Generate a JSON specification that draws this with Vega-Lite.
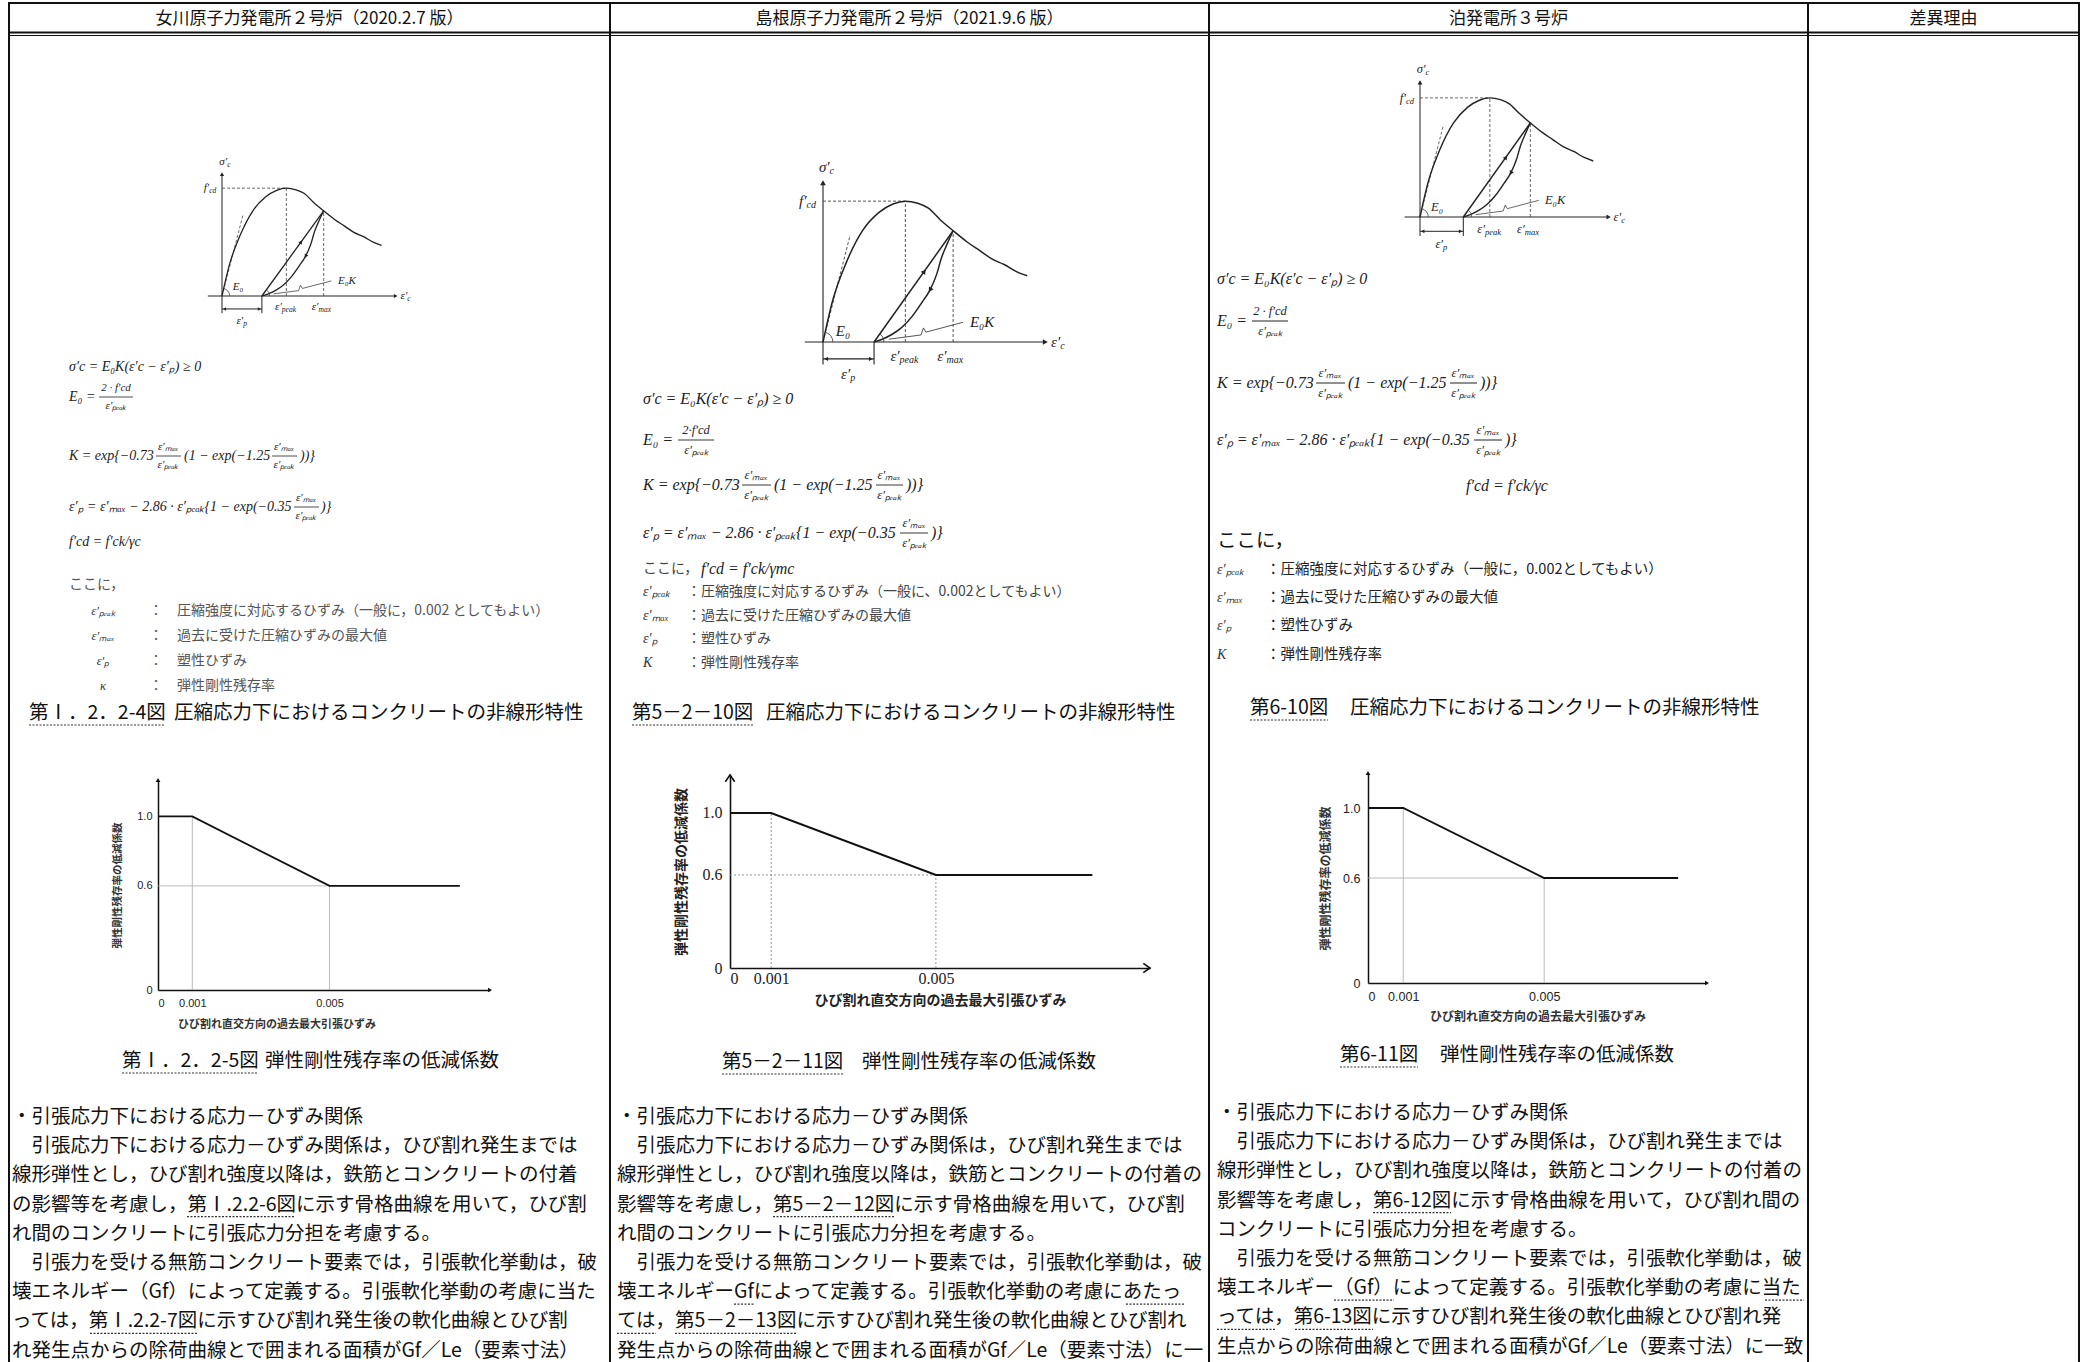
{
"$schema": "https://vega.github.io/schema/vega-lite/v6.json",
"background": "white",
"padding": {"left": 8, "top": 2, "right": 0, "bottom": 0},
"spacing": 0,
"bounds": "flush",
"config": {"view": {"stroke": null}, "concat": {"spacing": 0}, "text": {"font": "Noto Sans CJK JP"}, "axis": {"labelOverlap": false, "labelBound": false}, "point": {"opacity": 1}},
"datasets": {
"ss_env": [{"e":0,"s":0},{"e":0.12,"s":0.3},{"e":0.28,"s":0.56},{"e":0.48,"s":0.79},{"e":0.68,"s":0.92},{"e":0.85,"s":0.98},{"e":1.0,"s":1.0},{"e":1.15,"s":0.985},{"e":1.28,"s":0.95},{"e":1.42,"s":0.87},{"e":1.58,"s":0.79},{"e":1.75,"s":0.71},{"e":1.9,"s":0.65},{"e":2.05,"s":0.59},{"e":2.2,"s":0.55},{"e":2.35,"s":0.5},{"e":2.48,"s":0.47}],
"ss_loop": [{"g":"r","e":0.62,"s":0},{"g":"r","e":1.58,"s":0.79},{"g":"u","e":0.62,"s":0},{"g":"u","e":0.72,"s":0.02},{"g":"u","e":0.84,"s":0.055},{"g":"u","e":0.95,"s":0.1},{"g":"u","e":1.08,"s":0.18},{"g":"u","e":1.2,"s":0.28},{"g":"u","e":1.3,"s":0.37},{"g":"u","e":1.38,"s":0.48},{"g":"u","e":1.44,"s":0.6},{"g":"u","e":1.51,"s":0.7},{"g":"u","e":1.58,"s":0.79}],
"ss_dash": [{"e":0,"s":1,"e2":1,"s2":1},{"e":1,"s":0,"e2":1,"s2":1},{"e":1.58,"s":0,"e2":1.58,"s2":0.79},{"e":0,"s":0,"e2":0.33,"s2":0.76}],
"ss_solid": [{"e":-0.22,"s":0,"e2":2.68,"s2":0},{"e":0,"s":-0.16,"e2":0,"s2":1.12},{"e":0.62,"s":0,"e2":0.62,"s2":-0.16},{"e":0,"s":-0.12,"e2":0.62,"s2":-0.12}],
"ss_thin": [{"g":"a1","e":0.12,"s":0},{"g":"a1","e":0.113,"s":0.024},{"g":"a1","e":0.092,"s":0.046},{"g":"a1","e":0.06,"s":0.061},{"g":"a1","e":0.031,"s":0.069},{"g":"a2","e":0.74,"s":0},{"g":"a2","e":0.736,"s":0.018},{"g":"a2","e":0.724,"s":0.036},{"g":"a2","e":0.705,"s":0.05},{"g":"a2","e":0.69,"s":0.057},{"g":"ld","e":0.8,"s":0.02},{"g":"ld","e":1.19,"s":0.05},{"g":"ld","e":1.22,"s":0.1},{"g":"ld","e":1.25,"s":0.07},{"g":"ld","e":1.7,"s":0.14}],
"ss_lab": [{"m":"σ′","b":"c","e":0.08,"s":1.24},{"m":"f′","b":"cd","e":-0.2,"s":1.0},{"m":"E₀","b":"","e":0.33,"s":0.08},{"m":"E₀K","b":"","e":2.08,"s":0.14},{"m":"ε′","b":"peak","e":0.93,"s":-0.1},{"m":"ε′","b":"max","e":1.5,"s":-0.1},{"m":"ε′","b":"p","e":0.33,"s":-0.23},{"m":"ε′","b":"c","e":2.88,"s":0.0}],
"red": [{"e":0,"k":1},{"e":0.001,"k":1},{"e":0.005,"k":0.6},{"e":0.0088,"k":0.6}],
"red_g": [{"e":0.001,"k":0,"e2":0.001,"k2":1},{"e":0.005,"k":0,"e2":0.005,"k2":0.6},{"e":0,"k":0.6,"e2":0.005,"k2":0.6}],
"c1_hdr": [{"x":299.5,"y":17,"t":"女川原子力発電所２号炉（2020.2.7 版）"}],
"c1_main": [{"x":59,"y":365,"t":"σ′c = E₀K(ε′c − ε′ₚ)    ≥ 0"},{"x":59,"y":395,"t":"E₀ ="},{"x":59,"y":454,"t":"K = exp{−0.73"},{"x":174,"y":454,"t":"(1 − exp(−1.25"},{"x":290,"y":454,"t":"))}"},{"x":59,"y":505,"t":"ε′ₚ = ε′ₘₐₓ − 2.86 · ε′ₚₑₐₖ{1 − exp(−0.35"},{"x":311,"y":505,"t":")}"},{"x":59,"y":540,"t":"f′cd = f′ck/γc"}],
"c1_frac": [{"x":106,"y":386,"t":"2 · f′cd"},{"x":106,"y":404,"t":"ε′ₚₑₐₖ"},{"x":158,"y":445,"t":"ε′ₘₐₓ"},{"x":158,"y":463,"t":"ε′ₚₑₐₖ"},{"x":274,"y":445,"t":"ε′ₘₐₓ"},{"x":274,"y":463,"t":"ε′ₚₑₐₖ"},{"x":296,"y":496,"t":"ε′ₘₐₓ"},{"x":296,"y":514,"t":"ε′ₚₑₐₖ"}],
"c1_bars": [{"x":89,"x2":123,"y":395},{"x":146,"x2":171,"y":454},{"x":262,"x2":287,"y":454},{"x":284,"x2":309,"y":505}],
"c1_sym": [{"x":93,"y":609,"t":"ε′ₚₑₐₖ"},{"x":93,"y":634,"t":"ε′ₘₐₓ"},{"x":93,"y":659,"t":"ε′ₚ"},{"x":93,"y":684,"t":"κ"}],
"c1_jp": [{"x":59,"y":583,"t":"ここに，"},{"x":139,"y":609,"t":"：　圧縮強度に対応するひずみ（一般に，0.002 としてもよい）"},{"x":139,"y":634,"t":"：　過去に受けた圧縮ひずみの最大値"},{"x":139,"y":659,"t":"：　塑性ひずみ"},{"x":139,"y":684,"t":"：　弾性剛性残存率"}],
"c1_big": [{"x":19,"y":711,"t":"第Ⅰ．2．2-4図"},{"x":164,"y":711,"t":"圧縮応力下におけるコンクリートの非線形特性"},{"x":112,"y":1059,"t":"第Ⅰ．2．2-5図"},{"x":255,"y":1059,"t":"弾性剛性残存率の低減係数"},
 {"x":2,"y":1115,"t":"・引張応力下における応力－ひずみ関係"},
 {"x":21.5,"y":1144.2,"t":"引張応力下における応力－ひずみ関係は，ひび割れ発生までは"},
 {"x":2,"y":1173.4,"t":"線形弾性とし，ひび割れ強度以降は，鉄筋とコンクリートの付着"},
 {"x":2,"y":1202.6,"t":"の影響等を考慮し，第Ⅰ.2.2-6図に示す骨格曲線を用いて，ひび割"},
 {"x":2,"y":1231.8,"t":"れ間のコンクリートに引張応力分担を考慮する。"},
 {"x":21.5,"y":1261,"t":"引張力を受ける無筋コンクリート要素では，引張軟化挙動は，破"},
 {"x":2,"y":1290.2,"t":"壊エネルギー（Gf）によって定義する。引張軟化挙動の考慮に当た"},
 {"x":2,"y":1319.4,"t":"っては，第Ⅰ.2.2-7図に示すひび割れ発生後の軟化曲線とひび割"},
 {"x":2,"y":1348.6,"t":"れ発生点からの除荷曲線とで囲まれる面積がGf／Le（要素寸法）"}],
"c1_ttl": [{"x":267,"y":1023,"t":"ひび割れ直交方向の過去最大引張ひずみ"}],
"c1_ul": [{"x":19,"x2":155,"y":723},{"x":112,"x2":248,"y":1071},{"x":177,"x2":285,"y":1214.6},{"x":80,"x2":188,"y":1331.4}],
"c2_hdr": [{"x":298.5,"y":17,"t":"島根原子力発電所２号炉（2021.9.6 版）"}],
"c2_main": [{"x":32,"y":397,"t":"σ′c = E₀K(ε′c − ε′ₚ) ≥ 0"},{"x":32,"y":438,"t":"E₀ ="},{"x":32,"y":483,"t":"K = exp{−0.73"},{"x":163,"y":483,"t":"(1 − exp(−1.25"},{"x":295,"y":483,"t":"))}"},{"x":32,"y":531,"t":"ε′ₚ = ε′ₘₐₓ − 2.86 · ε′ₚₑₐₖ{1 − exp(−0.35"},{"x":320,"y":531,"t":")}"},{"x":90,"y":567,"t":"f′cd = f′ck/γmc"}],
"c2_frac": [{"x":85,"y":428,"t":"2·f′cd"},{"x":85,"y":448,"t":"ε′ₚₑₐₖ"},{"x":145,"y":473,"t":"ε′ₘₐₓ"},{"x":145,"y":493,"t":"ε′ₚₑₐₖ"},{"x":278,"y":473,"t":"ε′ₘₐₓ"},{"x":278,"y":493,"t":"ε′ₚₑₐₖ"},{"x":303,"y":521,"t":"ε′ₘₐₓ"},{"x":303,"y":541,"t":"ε′ₚₑₐₖ"}],
"c2_bars": [{"x":67,"x2":103,"y":438},{"x":131,"x2":160,"y":483},{"x":265,"x2":292,"y":483},{"x":289,"x2":317,"y":531}],
"c2_sym": [{"x":32,"y":590,"t":"ε′ₚₑₐₖ"},{"x":32,"y":614,"t":"ε′ₘₐₓ"},{"x":32,"y":637,"t":"ε′ₚ"},{"x":32,"y":661,"t":"K"}],
"c2_jp": [{"x":32,"y":567,"t":"ここに，"},{"x":76,"y":590,"t":"：圧縮強度に対応するひずみ（一般に、0.002としてもよい）"},{"x":76,"y":614,"t":"：過去に受けた圧縮ひずみの最大値"},{"x":76,"y":637,"t":"：塑性ひずみ"},{"x":76,"y":661,"t":"：弾性剛性残存率"}],
"c2_big": [{"x":21,"y":711,"t":"第5－2－10図"},{"x":155,"y":711,"t":"圧縮応力下におけるコンクリートの非線形特性"},{"x":111,"y":1060,"t":"第5－2－11図"},{"x":251,"y":1060,"t":"弾性剛性残存率の低減係数"},
 {"x":6,"y":1115,"t":"・引張応力下における応力－ひずみ関係"},
 {"x":25.5,"y":1144.2,"t":"引張応力下における応力－ひずみ関係は，ひび割れ発生までは"},
 {"x":6,"y":1173.4,"t":"線形弾性とし，ひび割れ強度以降は，鉄筋とコンクリートの付着の"},
 {"x":6,"y":1202.6,"t":"影響等を考慮し，第5－2－12図に示す骨格曲線を用いて，ひび割"},
 {"x":6,"y":1231.8,"t":"れ間のコンクリートに引張応力分担を考慮する。"},
 {"x":25.5,"y":1261,"t":"引張力を受ける無筋コンクリート要素では，引張軟化挙動は，破"},
 {"x":6,"y":1290.2,"t":"壊エネルギーGfによって定義する。引張軟化挙動の考慮にあたっ"},
 {"x":6,"y":1319.4,"t":"ては，第5－2－13図に示すひび割れ発生後の軟化曲線とひび割れ"},
 {"x":6,"y":1348.6,"t":"発生点からの除荷曲線とで囲まれる面積がGf／Le（要素寸法）に一"}],
"c2_ul": [{"x":21,"x2":142,"y":723},{"x":111,"x2":232,"y":1072},{"x":162,"x2":283,"y":1214.6},{"x":123,"x2":144,"y":1302.2},{"x":515,"x2":573,"y":1302.2},{"x":6,"x2":45,"y":1331.4},{"x":64,"x2":186,"y":1331.4}],
"c3_hdr": [{"x":298.5,"y":17,"t":"泊発電所３号炉"}],
"c3_main": [{"x":7,"y":277,"t":"σ′c = E₀K(ε′c − ε′ₚ) ≥ 0"},{"x":7,"y":319,"t":"E₀ ="},{"x":7,"y":381,"t":"K = exp{−0.73"},{"x":138,"y":381,"t":"(1 − exp(−1.25"},{"x":270,"y":381,"t":"))}"},{"x":7,"y":438,"t":"ε′ₚ = ε′ₘₐₓ − 2.86 · ε′ₚₑₐₖ{1 − exp(−0.35"},{"x":295,"y":438,"t":")}"},{"x":256,"y":484,"t":"f′cd = f′ck/γc"}],
"c3_frac": [{"x":60,"y":309,"t":"2 · f′cd"},{"x":60,"y":329,"t":"ε′ₚₑₐₖ"},{"x":120,"y":371,"t":"ε′ₘₐₓ"},{"x":120,"y":391,"t":"ε′ₚₑₐₖ"},{"x":253,"y":371,"t":"ε′ₘₐₓ"},{"x":253,"y":391,"t":"ε′ₚₑₐₖ"},{"x":278,"y":428,"t":"ε′ₘₐₓ"},{"x":278,"y":448,"t":"ε′ₚₑₐₖ"}],
"c3_bars": [{"x":42,"x2":78,"y":319},{"x":106,"x2":135,"y":381},{"x":240,"x2":267,"y":381},{"x":264,"x2":292,"y":438}],
"c3_sym": [{"x":7,"y":568,"t":"ε′ₚₑₐₖ"},{"x":7,"y":596,"t":"ε′ₘₐₓ"},{"x":7,"y":624,"t":"ε′ₚ"},{"x":7,"y":653,"t":"K"}],
"c3_jp": [{"x":56,"y":568,"t":"：圧縮強度に対応するひずみ（一般に，0.002としてもよい）"},{"x":56,"y":596,"t":"：過去に受けた圧縮ひずみの最大値"},{"x":56,"y":624,"t":"：塑性ひずみ"},{"x":56,"y":653,"t":"：弾性剛性残存率"}],
"c3_big": [{"x":7,"y":539,"t":"ここに，"},{"x":40,"y":706,"t":"第6-10図"},{"x":140,"y":706,"t":"圧縮応力下におけるコンクリートの非線形特性"},{"x":130,"y":1053,"t":"第6-11図"},{"x":230,"y":1053,"t":"弾性剛性残存率の低減係数"},
 {"x":7,"y":1111,"t":"・引張応力下における応力－ひずみ関係"},
 {"x":26.5,"y":1140.2,"t":"引張応力下における応力－ひずみ関係は，ひび割れ発生までは"},
 {"x":7,"y":1169.4,"t":"線形弾性とし，ひび割れ強度以降は，鉄筋とコンクリートの付着の"},
 {"x":7,"y":1198.6,"t":"影響等を考慮し，第6-12図に示す骨格曲線を用いて，ひび割れ間の"},
 {"x":7,"y":1227.8,"t":"コンクリートに引張応力分担を考慮する。"},
 {"x":26.5,"y":1257,"t":"引張力を受ける無筋コンクリート要素では，引張軟化挙動は，破"},
 {"x":7,"y":1286.2,"t":"壊エネルギー（Gf）によって定義する。引張軟化挙動の考慮に当た"},
 {"x":7,"y":1315.4,"t":"っては，第6-13図に示すひび割れ発生後の軟化曲線とひび割れ発"},
 {"x":7,"y":1344.6,"t":"生点からの除荷曲線とで囲まれる面積がGf／Le（要素寸法）に一致"}],
"c3_ul": [{"x":40,"x2":118,"y":718},{"x":130,"x2":208,"y":1065},{"x":163,"x2":241,"y":1210.6},{"x":124,"x2":184,"y":1298.2},{"x":555,"x2":594,"y":1298.2},{"x":7,"x2":65,"y":1327.4},{"x":85,"x2":163,"y":1327.4}],
"c4_hdr": [{"x":134.5,"y":17,"t":"差異理由"}]
},
"hconcat": [
{"width":2,"height":1360,"view":{"fill":"#111","stroke":null},"data":{"values":[]},"mark":"point"},
{"width":599,"height":1360,
 "resolve":{"scale":{"x":"independent","y":"independent"},"axis":{"x":"independent","y":"independent"}},
 "layer":[
  {"encoding":{"x":{"field":"x","type":"quantitative","scale":{"domain":[0,599],"nice":false,"zero":false},"axis":null},"y":{"field":"y","type":"quantitative","scale":{"domain":[0,1360],"nice":false,"zero":false,"reverse":true},"axis":null}},
   "layer":[
    {"data":{"values":[{"x":0,"x2":599,"y":1},{"x":0,"x2":599,"y":30.5}]},"mark":{"type":"rule","color":"#111","strokeWidth":2},"encoding":{"x2":{"field":"x2"}}},
    {"data":{"values":[{"x":0,"x2":599,"y":33.5}]},"mark":{"type":"rule","color":"#111","strokeWidth":1},"encoding":{"x2":{"field":"x2"}}},
    {"data":{"name":"c1_hdr"},"mark":{"type":"text","align":"center","baseline":"middle","font":"Noto Sans CJK JP","fontSize":17,"color":"#111"},"encoding":{"text":{"field":"t"}}},
    {"data":{"name":"c1_main"},"mark":{"type":"text","align":"left","baseline":"middle","font":"Liberation Serif","fontStyle":"italic","fontSize":14,"color":"#222"},"encoding":{"text":{"field":"t"}}},
    {"data":{"name":"c1_frac"},"mark":{"type":"text","align":"center","baseline":"middle","font":"Liberation Serif","fontStyle":"italic","fontSize":11,"color":"#222"},"encoding":{"text":{"field":"t"}}},
    {"data":{"name":"c1_bars"},"mark":{"type":"rule","color":"#222","strokeWidth":0.8},"encoding":{"x2":{"field":"x2"}}},
    {"data":{"name":"c1_sym"},"mark":{"type":"text","align":"center","baseline":"middle","font":"Liberation Serif","fontStyle":"italic","fontSize":12.5,"color":"#333"},"encoding":{"text":{"field":"t"}}},
    {"data":{"name":"c1_jp"},"mark":{"type":"text","align":"left","baseline":"middle","font":"Noto Sans CJK JP","fontSize":14,"color":"#555"},"encoding":{"text":{"field":"t"}}},
    {"data":{"name":"c1_big"},"mark":{"type":"text","align":"left","baseline":"middle","font":"Noto Sans CJK JP","fontSize":19.5,"color":"#111"},"encoding":{"text":{"field":"t"}}},
    {"data":{"name":"c1_ttl"},"mark":{"type":"text","align":"center","baseline":"middle","font":"Noto Sans CJK JP","fontSize":11,"fontWeight":"bold","color":"#333"},"encoding":{"text":{"field":"t"}}},
    {"data":{"name":"c1_ul"},"mark":{"type":"rule","color":"#333","strokeWidth":1.2,"strokeDash":[2,1.5]},"encoding":{"x2":{"field":"x2"}}}
   ]},
  {"encoding":{"x":{"field":"e","type":"quantitative","scale":{"domain":[0,2.72],"range":[212,387],"nice":false,"zero":false},"axis":null},"y":{"field":"s","type":"quantitative","scale":{"domain":[0,1.15],"range":[294,170],"nice":false,"zero":false},"axis":null}},
   "layer":[
    {"data":{"name":"ss_solid"},"mark":{"type":"rule","color":"#222","strokeWidth":1},"encoding":{"x2":{"field":"e2"},"y2":{"field":"s2"}}},
    {"data":{"name":"ss_dash"},"mark":{"type":"rule","color":"#444","strokeWidth":0.8,"strokeDash":[3,2]},"encoding":{"x2":{"field":"e2"},"y2":{"field":"s2"}}},
    {"data":{"name":"ss_env"},"mark":{"type":"line","color":"#222","strokeWidth":1.3,"interpolate":"monotone"}},
    {"data":{"name":"ss_loop"},"mark":{"type":"line","color":"#222","strokeWidth":1.3,"interpolate":"monotone"},"encoding":{"detail":{"field":"g"}}},
    {"data":{"name":"ss_thin"},"mark":{"type":"line","color":"#444","strokeWidth":0.8},"encoding":{"detail":{"field":"g"}}},
    {"data":{"values":[{"e":2.7,"s":0}]},"mark":{"type":"point","shape":"triangle-right","filled":true,"color":"#222","size":18}},
    {"data":{"values":[{"e":0,"s":1.13}]},"mark":{"type":"point","shape":"triangle-up","filled":true,"color":"#222","size":18}},
    {"data":{"values":[{"e":0.04,"s":-0.12}]},"mark":{"type":"point","shape":"triangle-left","filled":true,"color":"#222","size":12}},
    {"data":{"values":[{"e":0.58,"s":-0.12}]},"mark":{"type":"point","shape":"triangle-right","filled":true,"color":"#222","size":12}},
    {"data":{"values":[{"e":1.23,"s":0.5}]},"mark":{"type":"point","shape":"triangle-up","angle":36,"filled":true,"color":"#222","size":18}},
    {"data":{"values":[{"e":1.3,"s":0.37}]},"mark":{"type":"point","shape":"triangle-up","angle":211,"filled":true,"color":"#222","size":18}},
    {"data":{"name":"ss_lab"},"mark":{"type":"text","align":"right","baseline":"middle","font":"Liberation Serif","fontStyle":"italic","fontSize":11,"color":"#222"},"encoding":{"text":{"field":"m"}}},
    {"data":{"name":"ss_lab"},"mark":{"type":"text","align":"left","baseline":"middle","dy":3,"font":"Liberation Serif","fontStyle":"italic","fontSize":7.5,"color":"#222"},"encoding":{"text":{"field":"b"}}}
   ]},
  {"encoding":{
    "x":{"field":"e","type":"quantitative","scale":{"domain":[0,0.00968],"range":[148,480],"nice":false,"zero":false},"axis":{"orient":"bottom","offset":-372,"values":[0,0.001,0.005],"labelExpr":"datum.value == 0 ? '0' : format(datum.value, '.3f')","title":null,"ticks":false,"grid":false,"domainColor":"#111","domainWidth":1.5,"labelFont":"Liberation Sans","labelFontSize":11,"labelColor":"#222","labelPadding":7}},
    "y":{"field":"k","type":"quantitative","scale":{"domain":[0,1.21],"range":[988,778],"nice":false,"zero":false},"axis":{"orient":"left","offset":-148,"values":[0,0.6,1],"labelExpr":"datum.value == 0 ? '0' : format(datum.value, '.1f')","title":"弾性剛性残存率の低減係数","ticks":false,"grid":false,"domainColor":"#111","domainWidth":1.5,"labelFont":"Liberation Sans","labelFontSize":11,"labelColor":"#222","labelPadding":6,"titleFont":"Noto Sans CJK JP","titleFontSize":10.5,"titleFontWeight":"bold","titleColor":"#333","titlePadding":14}}},
   "layer":[
    {"data":{"name":"red_g"},"mark":{"type":"rule","color":"#aaa","strokeWidth":0.8},"encoding":{"x2":{"field":"e2"},"y2":{"field":"k2"}}},
    {"data":{"name":"red"},"mark":{"type":"line","color":"#111","strokeWidth":1.8}},
    {"data":{"values":[{"e":0.00968,"k":0}]},"mark":{"type":"point","shape":"triangle-right","filled":true,"color":"#111","size":22}},
    {"data":{"values":[{"e":0,"k":1.21}]},"mark":{"type":"point","shape":"triangle-up","filled":true,"color":"#111","size":22}}
   ]}
 ]},
{"width":2,"height":1360,"view":{"fill":"#111","stroke":null},"data":{"values":[]},"mark":"point"},
{"width":597,"height":1360,
 "resolve":{"scale":{"x":"independent","y":"independent"},"axis":{"x":"independent","y":"independent"}},
 "layer":[
  {"encoding":{"x":{"field":"x","type":"quantitative","scale":{"domain":[0,597],"nice":false,"zero":false},"axis":null},"y":{"field":"y","type":"quantitative","scale":{"domain":[0,1360],"nice":false,"zero":false,"reverse":true},"axis":null}},
   "layer":[
    {"data":{"values":[{"x":0,"x2":597,"y":1},{"x":0,"x2":597,"y":30.5}]},"mark":{"type":"rule","color":"#111","strokeWidth":2},"encoding":{"x2":{"field":"x2"}}},
    {"data":{"values":[{"x":0,"x2":597,"y":33.5}]},"mark":{"type":"rule","color":"#111","strokeWidth":1},"encoding":{"x2":{"field":"x2"}}},
    {"data":{"name":"c2_hdr"},"mark":{"type":"text","align":"center","baseline":"middle","font":"Noto Sans CJK JP","fontSize":17,"color":"#111"},"encoding":{"text":{"field":"t"}}},
    {"data":{"name":"c2_main"},"mark":{"type":"text","align":"left","baseline":"middle","font":"Liberation Serif","fontStyle":"italic","fontSize":16,"color":"#222"},"encoding":{"text":{"field":"t"}}},
    {"data":{"name":"c2_frac"},"mark":{"type":"text","align":"center","baseline":"middle","font":"Liberation Serif","fontStyle":"italic","fontSize":12.5,"color":"#222"},"encoding":{"text":{"field":"t"}}},
    {"data":{"name":"c2_bars"},"mark":{"type":"rule","color":"#222","strokeWidth":0.9},"encoding":{"x2":{"field":"x2"}}},
    {"data":{"name":"c2_sym"},"mark":{"type":"text","align":"left","baseline":"middle","font":"Liberation Serif","fontStyle":"italic","fontSize":14,"color":"#333"},"encoding":{"text":{"field":"t"}}},
    {"data":{"name":"c2_jp"},"mark":{"type":"text","align":"left","baseline":"middle","font":"Noto Sans CJK JP","fontSize":14,"color":"#444"},"encoding":{"text":{"field":"t"}}},
    {"data":{"name":"c2_big"},"mark":{"type":"text","align":"left","baseline":"middle","font":"Noto Sans CJK JP","fontSize":19.5,"color":"#111"},"encoding":{"text":{"field":"t"}}},
    {"data":{"name":"c2_ul"},"mark":{"type":"rule","color":"#333","strokeWidth":1.2,"strokeDash":[2,1.5]},"encoding":{"x2":{"field":"x2"}}}
   ]},
  {"encoding":{"x":{"field":"e","type":"quantitative","scale":{"domain":[0,2.72],"range":[212,436],"nice":false,"zero":false},"axis":null},"y":{"field":"s","type":"quantitative","scale":{"domain":[0,1.15],"range":[340,178],"nice":false,"zero":false},"axis":null}},
   "layer":[
    {"data":{"name":"ss_solid"},"mark":{"type":"rule","color":"#222","strokeWidth":1.1},"encoding":{"x2":{"field":"e2"},"y2":{"field":"s2"}}},
    {"data":{"name":"ss_dash"},"mark":{"type":"rule","color":"#444","strokeWidth":0.9,"strokeDash":[3,2]},"encoding":{"x2":{"field":"e2"},"y2":{"field":"s2"}}},
    {"data":{"name":"ss_env"},"mark":{"type":"line","color":"#222","strokeWidth":1.5,"interpolate":"monotone"}},
    {"data":{"name":"ss_loop"},"mark":{"type":"line","color":"#222","strokeWidth":1.5,"interpolate":"monotone"},"encoding":{"detail":{"field":"g"}}},
    {"data":{"name":"ss_thin"},"mark":{"type":"line","color":"#444","strokeWidth":0.9},"encoding":{"detail":{"field":"g"}}},
    {"data":{"values":[{"e":2.7,"s":0}]},"mark":{"type":"point","shape":"triangle-right","filled":true,"color":"#222","size":32}},
    {"data":{"values":[{"e":0,"s":1.13}]},"mark":{"type":"point","shape":"triangle-up","filled":true,"color":"#222","size":32}},
    {"data":{"values":[{"e":0.04,"s":-0.12}]},"mark":{"type":"point","shape":"triangle-left","filled":true,"color":"#222","size":18}},
    {"data":{"values":[{"e":0.58,"s":-0.12}]},"mark":{"type":"point","shape":"triangle-right","filled":true,"color":"#222","size":18}},
    {"data":{"values":[{"e":1.23,"s":0.5}]},"mark":{"type":"point","shape":"triangle-up","angle":36,"filled":true,"color":"#222","size":30}},
    {"data":{"values":[{"e":1.3,"s":0.37}]},"mark":{"type":"point","shape":"triangle-up","angle":211,"filled":true,"color":"#222","size":30}},
    {"data":{"name":"ss_lab"},"mark":{"type":"text","align":"right","baseline":"middle","font":"Liberation Serif","fontStyle":"italic","fontSize":15,"color":"#222"},"encoding":{"text":{"field":"m"}}},
    {"data":{"name":"ss_lab"},"mark":{"type":"text","align":"left","baseline":"middle","dy":4,"font":"Liberation Serif","fontStyle":"italic","fontSize":10,"color":"#222"},"encoding":{"text":{"field":"b"}}}
   ]},
  {"encoding":{
    "x":{"field":"e","type":"quantitative","scale":{"domain":[0,0.0102],"range":[119,539],"nice":false,"zero":false},"axis":{"orient":"bottom","offset":-394,"values":[0,0.001,0.005],"labelExpr":"datum.value == 0 ? '0' : format(datum.value, '.3f')","title":"ひび割れ直交方向の過去最大引張ひずみ","ticks":false,"grid":false,"domainColor":"#111","domainWidth":1.6,"labelFont":"Liberation Serif","labelFontSize":16,"labelColor":"#222","labelPadding":2,"titleFont":"Noto Sans CJK JP","titleFontSize":14,"titleFontWeight":"bold","titleColor":"#222","titlePadding":7}},
    "y":{"field":"k","type":"quantitative","scale":{"domain":[0,1.245],"range":[966,773],"nice":false,"zero":false},"axis":{"orient":"left","offset":-119,"values":[0,0.6,1],"labelExpr":"datum.value == 0 ? '0' : format(datum.value, '.1f')","title":"弾性剛性残存率の低減係数","ticks":false,"grid":false,"domainColor":"#111","domainWidth":1.6,"labelFont":"Liberation Serif","labelFontSize":16,"labelColor":"#222","labelPadding":8,"titleFont":"Noto Sans CJK JP","titleFontSize":14,"titleFontWeight":"bold","titleColor":"#222","titlePadding":14}}},
   "layer":[
    {"data":{"name":"red_g"},"mark":{"type":"rule","color":"#888","strokeWidth":0.9,"strokeDash":[2,2]},"encoding":{"x2":{"field":"e2"},"y2":{"field":"k2"}}},
    {"data":{"name":"red"},"mark":{"type":"line","color":"#111","strokeWidth":2}},
    {"data":{"values":[{"e":0.0102,"k":0}]},"mark":{"type":"point","shape":"M-1,-0.7L0,0L-1,0.7","filled":false,"stroke":"#111","strokeWidth":1.6,"size":180}},
    {"data":{"values":[{"e":0,"k":1.245}]},"mark":{"type":"point","shape":"M-0.7,1L0,0L0.7,1","filled":false,"stroke":"#111","strokeWidth":1.6,"size":180}}
   ]}
 ]},
{"width":2,"height":1360,"view":{"fill":"#111","stroke":null},"data":{"values":[]},"mark":"point"},
{"width":597,"height":1360,
 "resolve":{"scale":{"x":"independent","y":"independent"},"axis":{"x":"independent","y":"independent"}},
 "layer":[
  {"encoding":{"x":{"field":"x","type":"quantitative","scale":{"domain":[0,597],"nice":false,"zero":false},"axis":null},"y":{"field":"y","type":"quantitative","scale":{"domain":[0,1360],"nice":false,"zero":false,"reverse":true},"axis":null}},
   "layer":[
    {"data":{"values":[{"x":0,"x2":597,"y":1},{"x":0,"x2":597,"y":30.5}]},"mark":{"type":"rule","color":"#111","strokeWidth":2},"encoding":{"x2":{"field":"x2"}}},
    {"data":{"values":[{"x":0,"x2":597,"y":33.5}]},"mark":{"type":"rule","color":"#111","strokeWidth":1},"encoding":{"x2":{"field":"x2"}}},
    {"data":{"name":"c3_hdr"},"mark":{"type":"text","align":"center","baseline":"middle","font":"Noto Sans CJK JP","fontSize":17,"color":"#111"},"encoding":{"text":{"field":"t"}}},
    {"data":{"name":"c3_main"},"mark":{"type":"text","align":"left","baseline":"middle","font":"Liberation Serif","fontStyle":"italic","fontSize":16,"color":"#222"},"encoding":{"text":{"field":"t"}}},
    {"data":{"name":"c3_frac"},"mark":{"type":"text","align":"center","baseline":"middle","font":"Liberation Serif","fontStyle":"italic","fontSize":12.5,"color":"#222"},"encoding":{"text":{"field":"t"}}},
    {"data":{"name":"c3_bars"},"mark":{"type":"rule","color":"#222","strokeWidth":1},"encoding":{"x2":{"field":"x2"}}},
    {"data":{"name":"c3_sym"},"mark":{"type":"text","align":"left","baseline":"middle","font":"Liberation Serif","fontStyle":"italic","fontSize":14,"color":"#333"},"encoding":{"text":{"field":"t"}}},
    {"data":{"name":"c3_jp"},"mark":{"type":"text","align":"left","baseline":"middle","font":"Noto Sans CJK JP","fontSize":14.5,"color":"#222"},"encoding":{"text":{"field":"t"}}},
    {"data":{"name":"c3_big"},"mark":{"type":"text","align":"left","baseline":"middle","font":"Noto Sans CJK JP","fontSize":19.5,"color":"#111"},"encoding":{"text":{"field":"t"}}},
    {"data":{"name":"c3_ul"},"mark":{"type":"rule","color":"#333","strokeWidth":1.2,"strokeDash":[2,1.5]},"encoding":{"x2":{"field":"x2"}}}
   ]},
  {"encoding":{"x":{"field":"e","type":"quantitative","scale":{"domain":[0,2.72],"range":[210,400],"nice":false,"zero":false},"axis":null},"y":{"field":"s","type":"quantitative","scale":{"domain":[0,1.15],"range":[215,78],"nice":false,"zero":false},"axis":null}},
   "layer":[
    {"data":{"name":"ss_solid"},"mark":{"type":"rule","color":"#222","strokeWidth":1},"encoding":{"x2":{"field":"e2"},"y2":{"field":"s2"}}},
    {"data":{"name":"ss_dash"},"mark":{"type":"rule","color":"#444","strokeWidth":0.8,"strokeDash":[3,2]},"encoding":{"x2":{"field":"e2"},"y2":{"field":"s2"}}},
    {"data":{"name":"ss_env"},"mark":{"type":"line","color":"#222","strokeWidth":1.4,"interpolate":"monotone"}},
    {"data":{"name":"ss_loop"},"mark":{"type":"line","color":"#222","strokeWidth":1.4,"interpolate":"monotone"},"encoding":{"detail":{"field":"g"}}},
    {"data":{"name":"ss_thin"},"mark":{"type":"line","color":"#444","strokeWidth":0.8},"encoding":{"detail":{"field":"g"}}},
    {"data":{"values":[{"e":2.7,"s":0}]},"mark":{"type":"point","shape":"triangle-right","filled":true,"color":"#222","size":24}},
    {"data":{"values":[{"e":0,"s":1.13}]},"mark":{"type":"point","shape":"triangle-up","filled":true,"color":"#222","size":24}},
    {"data":{"values":[{"e":0.04,"s":-0.12}]},"mark":{"type":"point","shape":"triangle-left","filled":true,"color":"#222","size":14}},
    {"data":{"values":[{"e":0.58,"s":-0.12}]},"mark":{"type":"point","shape":"triangle-right","filled":true,"color":"#222","size":14}},
    {"data":{"values":[{"e":1.23,"s":0.5}]},"mark":{"type":"point","shape":"triangle-up","angle":36,"filled":true,"color":"#222","size":22}},
    {"data":{"values":[{"e":1.3,"s":0.37}]},"mark":{"type":"point","shape":"triangle-up","angle":211,"filled":true,"color":"#222","size":22}},
    {"data":{"name":"ss_lab"},"mark":{"type":"text","align":"right","baseline":"middle","font":"Liberation Serif","fontStyle":"italic","fontSize":12.5,"color":"#222"},"encoding":{"text":{"field":"m"}}},
    {"data":{"name":"ss_lab"},"mark":{"type":"text","align":"left","baseline":"middle","dy":3,"font":"Liberation Serif","fontStyle":"italic","fontSize":8.5,"color":"#222"},"encoding":{"text":{"field":"b"}}}
   ]},
  {"encoding":{
    "x":{"field":"e","type":"quantitative","scale":{"domain":[0,0.00962],"range":[158,497],"nice":false,"zero":false},"axis":{"orient":"bottom","offset":-379,"values":[0,0.001,0.005],"labelExpr":"datum.value == 0 ? '0' : format(datum.value, '.3f')","title":"ひび割れ直交方向の過去最大引張ひずみ","ticks":false,"grid":false,"domainColor":"#111","domainWidth":1.5,"labelFont":"Liberation Sans","labelFontSize":12.5,"labelColor":"#222","labelPadding":7,"titleFont":"Noto Sans CJK JP","titleFontSize":12,"titleFontWeight":"bold","titleColor":"#333","titlePadding":9}},
    "y":{"field":"k","type":"quantitative","scale":{"domain":[0,1.2],"range":[981,771],"nice":false,"zero":false},"axis":{"orient":"left","offset":-158,"values":[0,0.6,1],"labelExpr":"datum.value == 0 ? '0' : format(datum.value, '.1f')","title":"弾性剛性残存率の低減係数","ticks":false,"grid":false,"domainColor":"#111","domainWidth":1.5,"labelFont":"Liberation Sans","labelFontSize":12.5,"labelColor":"#222","labelPadding":8,"titleFont":"Noto Sans CJK JP","titleFontSize":12,"titleFontWeight":"bold","titleColor":"#333","titlePadding":10}}},
   "layer":[
    {"data":{"name":"red_g"},"mark":{"type":"rule","color":"#aaa","strokeWidth":0.8},"encoding":{"x2":{"field":"e2"},"y2":{"field":"k2"}}},
    {"data":{"name":"red"},"mark":{"type":"line","color":"#111","strokeWidth":1.8}},
    {"data":{"values":[{"e":0.00962,"k":0}]},"mark":{"type":"point","shape":"triangle-right","filled":true,"color":"#111","size":22}},
    {"data":{"values":[{"e":0,"k":1.2}]},"mark":{"type":"point","shape":"triangle-up","filled":true,"color":"#111","size":22}}
   ]}
 ]},
{"width":2,"height":1360,"view":{"fill":"#111","stroke":null},"data":{"values":[]},"mark":"point"},
{"width":269,"height":1360,
 "encoding":{"x":{"field":"x","type":"quantitative","scale":{"domain":[0,269],"nice":false,"zero":false},"axis":null},"y":{"field":"y","type":"quantitative","scale":{"domain":[0,1360],"nice":false,"zero":false,"reverse":true},"axis":null}},
 "layer":[
  {"data":{"values":[{"x":0,"x2":269,"y":1},{"x":0,"x2":269,"y":30.5}]},"mark":{"type":"rule","color":"#111","strokeWidth":2},"encoding":{"x2":{"field":"x2"}}},
  {"data":{"values":[{"x":0,"x2":269,"y":33.5}]},"mark":{"type":"rule","color":"#111","strokeWidth":1},"encoding":{"x2":{"field":"x2"}}},
  {"data":{"name":"c4_hdr"},"mark":{"type":"text","align":"center","baseline":"middle","font":"Noto Sans CJK JP","fontSize":17,"color":"#111"},"encoding":{"text":{"field":"t"}}}
 ]},
{"width":2,"height":1360,"view":{"fill":"#111","stroke":null},"data":{"values":[]},"mark":"point"}
]
}
